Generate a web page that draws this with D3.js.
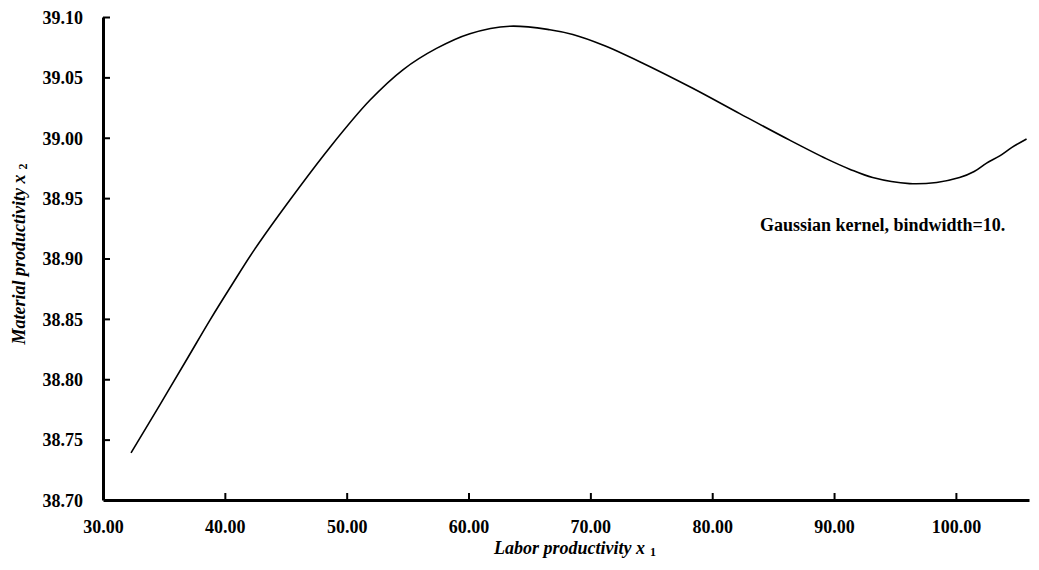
<!DOCTYPE html>
<html>
<head>
<meta charset="utf-8">
<script src="https://cdn.jsdelivr.net/npm/d3@7"></script>
<style>
  body { margin: 0; background: #fff; }
  svg { display: block; }
  text { font-family: "Liberation Serif", "Times New Roman", serif; fill: #000; }
</style>
</head>
<body>
<svg id="chart" width="1039" height="570"></svg>
<script>
const laborX = [32.30, 34.68, 36.97, 38.78, 40.66, 42.47, 45.34, 48.62, 51.90, 54.64, 57.37, 60.11, 63.39, 66.67, 68.56, 71.02, 74.05, 78.40, 82.26, 86.36, 89.39, 91.28, 93.17, 96.20, 98.42, 100.30, 101.5, 102.52, 103.6, 104.6, 105.80];
const materialY = [38.739, 38.779, 38.818, 38.849, 38.8795, 38.908, 38.9485, 38.992, 39.031, 39.0565, 39.074, 39.0862, 39.0924, 39.0895, 39.0855, 39.0768, 39.063, 39.041, 39.020, 38.998, 38.9825, 38.974, 38.967, 38.962, 38.963, 38.967, 38.972, 38.979, 38.985, 38.992, 38.999];
const xTicks = [30, 40, 50, 60, 70, 80, 90, 100];
const yTicks = [38.70, 38.75, 38.80, 38.85, 38.90, 38.95, 39.00, 39.05, 39.10];
const annotation = "Gaussian kernel, bindwidth=10.";

const svg = d3.select("#chart");
const x = d3.scaleLinear().domain([30, 106]).range([103, 1029]);
const y = d3.scaleLinear().domain([38.70, 39.10]).range([500, 17]);

// axes
const xAxis = svg.append("g").attr("transform", "translate(0,500)")
  .call(d3.axisBottom(x).tickValues(xTicks).tickSizeInner(-7).tickSizeOuter(0).tickFormat(d3.format(".2f")));
const yAxis = svg.append("g").attr("transform", "translate(103,0)")
  .call(d3.axisLeft(y).tickValues(yTicks).tickSizeInner(-7).tickSizeOuter(0).tickFormat(d3.format(".2f")));

[xAxis, yAxis].forEach(g => {
  g.select(".domain").attr("stroke", "#000").attr("stroke-width", 3);
  g.selectAll(".tick line").attr("stroke", "#000").attr("stroke-width", 2);
  g.selectAll(".tick text").attr("font-family", "Liberation Serif, serif")
    .attr("font-weight", "bold").attr("font-size", 18).attr("fill", "#000");
});
xAxis.selectAll(".tick text").attr("dy", null).attr("y", 33);
yAxis.selectAll(".tick text").attr("x", -20).attr("dy", "0.35em");
yAxis.selectAll(".tick").filter(d => d === 38.70).select("line").remove();
xAxis.selectAll(".tick").filter(d => d === 30).select("line").remove();

// curve
const line = d3.line().x((d, i) => x(laborX[i])).y(d => y(d)).curve(d3.curveCatmullRom.alpha(0.5));
svg.append("path").datum(materialY)
  .attr("d", line).attr("fill", "none").attr("stroke", "#000").attr("stroke-width", 1.6);

// annotation
svg.append("text").attr("x", 760).attr("y", 231)
  .attr("font-weight", "bold").attr("font-size", 18).text(annotation);

// x title
const xt = svg.append("text").attr("x", 575).attr("y", 554).attr("text-anchor", "middle")
  .attr("font-weight", "bold").attr("font-size", 18);
xt.append("tspan").attr("font-style", "italic").text("Labor productivity  x");
xt.append("tspan").attr("font-size", 12).attr("dx", 5).attr("dy", 2).text("1");

// y title
const yt = svg.append("text").attr("transform", "translate(25,254) rotate(-90)").attr("text-anchor", "middle")
  .attr("font-weight", "bold").attr("font-size", 18);
yt.append("tspan").attr("font-style", "italic").text("Material productivity  x");
yt.append("tspan").attr("font-size", 12).attr("dx", 5).attr("dy", 2).text("2");
</script>
</body>
</html>
